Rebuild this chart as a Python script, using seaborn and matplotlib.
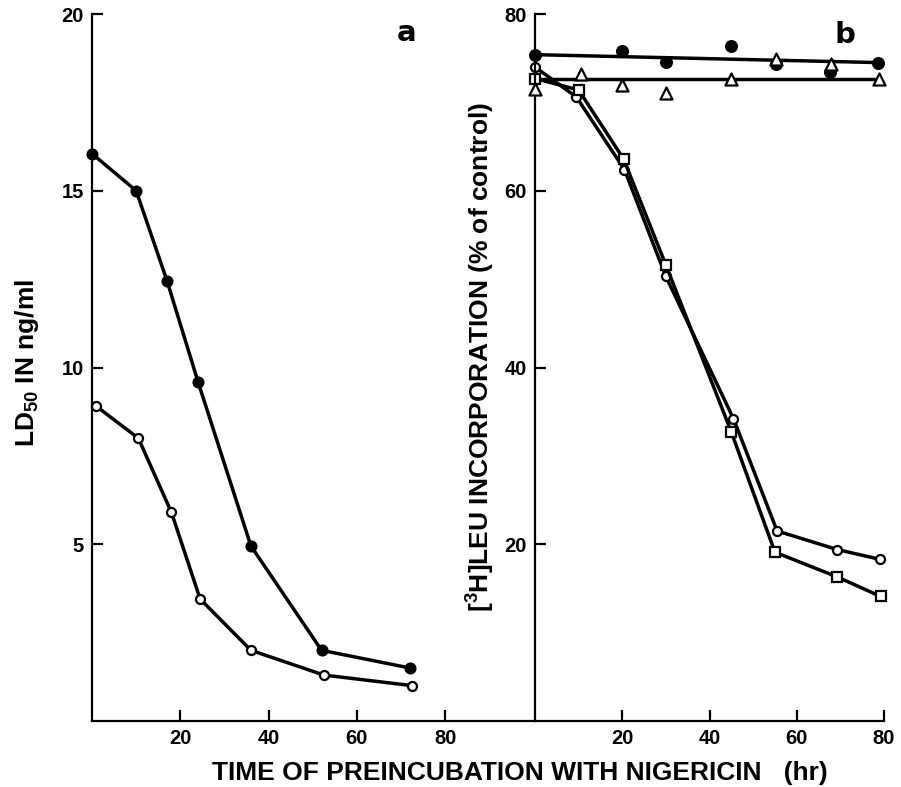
import matplotlib
matplotlib.use("Agg")
import matplotlib.pyplot as plt
import seaborn as sns
import numpy as np

# ---------------- data ----------------
# panel a : LD50 (ng/ml) vs time of preincubation (hr)
t_a_filled = [0, 10, 17, 24, 36, 52, 72]
ld_filled = [16.05, 15.0, 12.45, 9.6, 4.95, 2.0, 1.5]
t_a_open = [1, 10.5, 18, 24.5, 36, 52.5, 72.5]
ld_open = [8.9, 8.0, 5.9, 3.45, 2.0, 1.3, 1.0]

# panel b : [3H]Leu incorporation (% of control)
t_b_fcirc = [0, 20, 30, 45, 55.3, 67.7, 78.6]
inc_fcirc = [75.4, 75.8, 74.6, 76.4, 74.3, 73.4, 74.5]
fit_fcirc_t = [0, 79]
fit_fcirc_y = [75.4, 74.5]

t_b_tri = [0, 10.5, 20, 30, 45, 55.3, 67.8, 78.8]
inc_tri = [71.5, 73.2, 72.0, 71.1, 72.6, 74.9, 74.3, 72.7]
fit_tri_t = [0, 79]
fit_tri_y = [72.6, 72.6]

t_b_ocirc = [0, 9.5, 20.5, 30, 45.5, 55.5, 69.3, 79]
inc_ocirc = [74.0, 70.6, 62.4, 50.3, 34.2, 21.5, 19.4, 18.3]
t_b_sq = [0, 10, 20.3, 30, 45, 55, 69.3, 79.2]
inc_sq = [72.7, 71.4, 63.6, 51.6, 32.7, 19.1, 16.3, 14.1]

xticks = [20, 40, 60, 80]
yticks_a = [5, 10, 15, 20]
yticks_b = [20, 40, 60, 80]

# ---------------- style ----------------
sns.set_style("ticks")
plt.rcParams["font.family"] = ["Liberation Sans", "DejaVu Sans"]
plt.rcParams["font.weight"] = "bold"
plt.rcParams["text.color"] = "black"
plt.rcParams["axes.labelcolor"] = "black"
plt.rcParams["xtick.color"] = "black"
plt.rcParams["ytick.color"] = "black"
plt.rcParams["mathtext.fontset"] = "custom"
plt.rcParams["mathtext.rm"] = "Liberation Sans:bold"
plt.rcParams["mathtext.default"] = "rm"

W, H = 901, 787
fig = plt.figure(figsize=(W / 100, H / 100), dpi=100)

axL, axR, axB, axT = 92, 535, 721, 14
axR2 = 884
ax_a = fig.add_axes([axL / W, 1 - axB / H, (axR - axL) / W, (axB - axT) / H])
ax_b = fig.add_axes([axR / W, 1 - axB / H, (axR2 - axR) / W, (axB - axT) / H])

LW = 2.5
common = dict(color="black", lw=LW, sort=False, estimator=None, clip_on=False)

# panel a
sns.lineplot(x=t_a_filled, y=ld_filled, ax=ax_a, marker="o", ms=7.5,
             mfc="black", mec="black", mew=1.2, **common)
sns.lineplot(x=t_a_open, y=ld_open, ax=ax_a, marker="o", ms=6.5,
             mfc="white", mec="black", mew=1.6, **common)

# panel b
sns.lineplot(x=fit_fcirc_t, y=fit_fcirc_y, ax=ax_b, **common)
sns.lineplot(x=fit_tri_t, y=fit_tri_y, ax=ax_b, **common)
sns.lineplot(x=t_b_ocirc, y=inc_ocirc, ax=ax_b, marker="o", ms=6.5,
             mfc="white", mec="black", mew=1.6, **common)
sns.lineplot(x=t_b_sq, y=inc_sq, ax=ax_b, marker="s", ms=6.5,
             mfc="white", mec="black", mew=1.6, **common)
sns.scatterplot(x=t_b_fcirc, y=inc_fcirc, ax=ax_b, marker="o", s=70,
                color="black", edgecolor="black", linewidth=1, zorder=4, clip_on=False)
sns.scatterplot(x=t_b_tri, y=inc_tri, ax=ax_b, marker="^", s=75,
                facecolor="white", edgecolor="black", linewidth=1.6, zorder=5, clip_on=False)

# axes formatting
for ax in (ax_a, ax_b):
    for side in ("top", "right"):
        ax.spines[side].set_visible(False)
    for side in ("left", "bottom"):
        ax.spines[side].set_linewidth(1.6)
        ax.spines[side].set_color("black")
    ax.tick_params(direction="in", length=8, width=1.6, labelsize=14.5, pad=6,
                   colors="black", labelcolor="black")
    ax.set_facecolor("none")

ax_a.set_xlim(0, (axR - axL) / 4.415)
ax_a.set_ylim(0, 20)
ax_a.set_xticks(xticks)
ax_a.set_yticks(yticks_a)
ax_a.set_xticklabels([str(v) for v in xticks], fontweight="bold", color="black")
ax_a.set_yticklabels([str(v) for v in yticks_a], fontweight="bold", color="black")

ax_b.set_xlim(0, 80)
ax_b.set_ylim(0, 80)
ax_b.set_xticks(xticks)
ax_b.set_yticks(yticks_b)
ax_b.set_xticklabels([str(v) for v in xticks], fontweight="bold", color="black")
ax_b.set_yticklabels([str(v) for v in yticks_b], fontweight="bold", color="black")

ax_a.set_ylabel(r"LD$_{50}$ IN ng/ml", fontsize=19, fontweight="bold", va="center",
                color="black")
ax_a.yaxis.set_label_coords((27 - axL) / (axR - axL), (axB - 363) / (axB - axT))
ax_b.set_ylabel(r"[$^{3}$H]LEU INCORPORATION (% of control)", fontsize=19,
                fontweight="bold", va="center", color="black")
ax_b.yaxis.set_label_coords((481 - axR) / (axR2 - axR), (axB - 357) / (axB - axT))
ax_a.set_xlabel("")
ax_b.set_xlabel("")

fig.text(520 / W, 1 - 773 / H, "TIME OF PREINCUBATION WITH NIGERICIN   (hr)",
         ha="center", va="center", fontsize=19, fontweight="bold", color="black")

ax_a.text((407 - axL) / (axR - axL), (axB - 33) / (axB - axT), "a",
          transform=ax_a.transAxes, ha="center", va="center", fontsize=21,
          fontweight="bold", family="DejaVu Sans", color="black")
ax_b.text((845 - axR) / (axR2 - axR), (axB - 35) / (axB - axT), "b",
          transform=ax_b.transAxes, ha="center", va="center", fontsize=21,
          fontweight="bold", family="DejaVu Sans", color="black")

fig.savefig("out.png", dpi=100)
